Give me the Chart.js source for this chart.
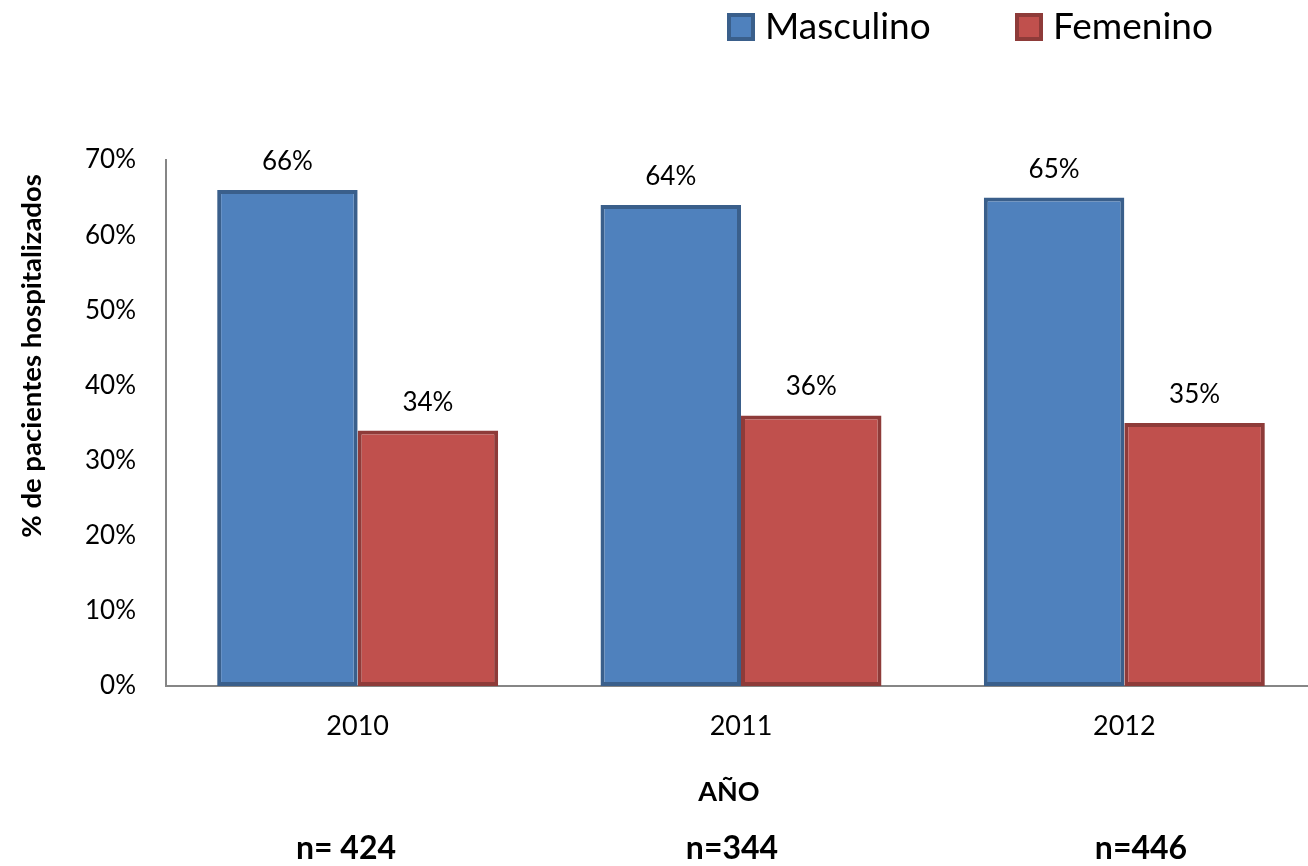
<!DOCTYPE html>
<html>
<head>
<meta charset="utf-8">
<script src="https://cdn.jsdelivr.net/npm/chart.js@4.4.1/dist/chart.umd.min.js"></script>
<style>
  html, body { margin: 0; padding: 0; background: #ffffff; overflow: hidden; }
  #wrap { width: 1316px; height: 866px; }
</style>
</head>
<body>
<div id="wrap"><canvas id="c" width="1316" height="866"></canvas></div>
<script>
// Hospitalised patients by sex, per year (percent)
const years = ['2010', '2011', '2012'];
const masculino = [66, 64, 65];
const femenino = [34, 36, 35];
const sampleSizes = ['n= 424', 'n=344', 'n=446'];
const seriesNames = ['Masculino', 'Femenino'];
const yTitle = '% de pacientes hospitalizados';
const xTitle = 'AÑO';

const FONT = 'Lato, "Liberation Sans", sans-serif';

// Value labels above each bar
const valueLabels = {
  id: 'valueLabels',
  afterDatasetsDraw(chart) {
    const ctx = chart.ctx;
    ctx.save();
    ctx.font = '26px ' + FONT;
    ctx.fillStyle = '#000';
    ctx.textAlign = 'center';
    ctx.textBaseline = 'alphabetic';
    chart.data.datasets.forEach((ds, i) => {
      chart.getDatasetMeta(i).data.forEach((bar, j) => {
        ctx.fillText(ds.data[j] + '%', bar.x, bar.y - 20);
      });
    });
    ctx.restore();
  }
};

// Legend boxes, axis titles and sample sizes under the axis
const extras = {
  id: 'extras',
  afterDraw(chart) {
    const ctx = chart.ctx;
    ctx.save();
    // legend
    const legendX = [727, 1015];
    chart.data.datasets.forEach((ds, i) => {
      const x = legendX[i], y = 13, s = 28;
      ctx.fillStyle = ds.backgroundColor;
      ctx.fillRect(x, y, s, s);
      ctx.strokeStyle = ds.borderColor;
      ctx.lineWidth = 4;
      ctx.strokeRect(x + 2, y + 2, s - 4, s - 4);
      ctx.fillStyle = '#000';
      ctx.font = '37px ' + FONT;
      ctx.textAlign = 'left';
      ctx.textBaseline = 'middle';
      ctx.fillText(ds.label, x + 38, y + s / 2);
    });
    // y axis title
    ctx.save();
    ctx.translate(32, 356);
    ctx.rotate(-Math.PI / 2);
    ctx.font = 'bold 27.5px ' + FONT;
    ctx.fillStyle = '#000';
    ctx.textAlign = 'center';
    ctx.textBaseline = 'middle';
    ctx.fillText(yTitle, 0, 0);
    ctx.restore();
    // x axis title
    ctx.font = 'bold 27px ' + FONT;
    ctx.fillStyle = '#000';
    ctx.textAlign = 'center';
    ctx.textBaseline = 'middle';
    ctx.fillText(xTitle, 729, 792);
    // sample sizes
    const nX = [346, 732, 1141];
    ctx.font = 'bold 32px ' + FONT;
    sampleSizes.forEach((t, i) => {
      ctx.fillText(t, nX[i], chart.height - 17);
    });
    ctx.restore();
  }
};

new Chart(document.getElementById('c'), {
  type: 'bar',
  data: {
    labels: years,
    datasets: [
      { label: seriesNames[0], data: masculino, backgroundColor: '#4F81BD', borderColor: '#3A5F8B', borderWidth: 4, borderSkipped: false },
      { label: seriesNames[1], data: femenino, backgroundColor: '#C0504D', borderColor: '#8E3B39', borderWidth: 4, borderSkipped: false }
    ]
  },
  options: {
    responsive: false,
    animation: false,
    layout: { padding: { top: 160, bottom: 55, left: 0, right: 0 } },
    datasets: { bar: { barPercentage: 1, categoryPercentage: 0.733 } },
    plugins: { legend: { display: false }, tooltip: { enabled: false } },
    scales: {
      x: {
        grid: { display: false, drawTicks: false },
        border: { display: true, color: '#868686', width: 2 },
        ticks: { color: '#000', font: { family: FONT, size: 27 }, padding: 24 },
        afterFit(scale) { scale.height = 125; }
      },
      y: {
        min: 0, max: 70,
        grid: { display: false, drawTicks: false },
        border: { display: true, color: '#868686', width: 2 },
        ticks: { stepSize: 10, color: '#000', font: { family: FONT, size: 26 }, padding: 30, callback: v => v + '%' },
        afterFit(scale) { scale.width = 166; }
      }
    }
  },
  plugins: [valueLabels, extras]
});
</script>
</body>
</html>
